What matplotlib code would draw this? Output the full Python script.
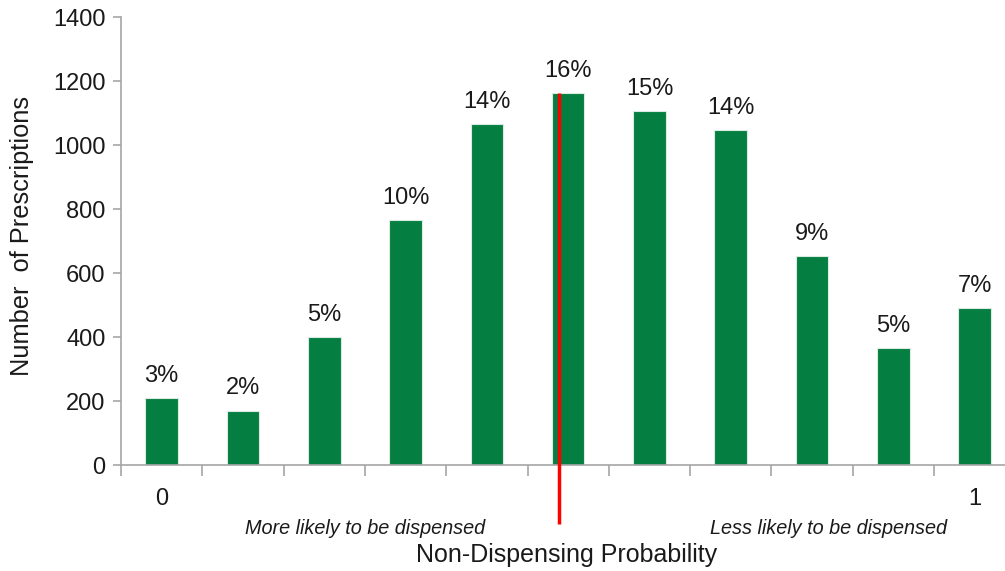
import matplotlib
matplotlib.use("Agg")
import matplotlib.pyplot as plt
import numpy as np

# Prescription counts per non-dispensing probability bin (0 .. 1)
bins = list(range(11))
counts = [210, 170, 400, 766, 1066, 1162, 1107, 1047, 653, 366, 491]
end_labels = {0: "0", 10: "1"}
y_ticks = [0, 200, 400, 600, 800, 1000, 1200, 1400]
threshold_pos = 4.89  # position of the red cut-off line on the category axis

plt.rcParams["font.family"] = ["Liberation Sans", "DejaVu Sans"]

fig = plt.figure(figsize=(10.05, 5.71), dpi=100)
W, H = 1005, 571
left_px, bottom_px, top_px = 121, 465, 17
cat_px = 81.3
ax = fig.add_axes([left_px / W, (H - bottom_px) / H,
                   11 * cat_px / W, (bottom_px - top_px) / H])

green = "#047f41"
grey = "#a6a6a6"
text_col = "#1a1a1a"
ax.bar(bins, counts, width=0.4, color=green, edgecolor="#dcebe1", linewidth=0.8, zorder=2)

total = sum(counts)
for x, c in zip(bins, counts):
    ax.text(x, c + 35, f"{round(100 * c / total)}%", ha="center", va="bottom",
            fontsize=17, color=text_col)

ax.set_xlim(-0.5, 10.5)
ax.set_ylim(0, 1400)
ax.set_yticks(y_ticks)
ax.set_yticklabels([str(v) for v in y_ticks], fontsize=17, color=text_col)
ax.tick_params(axis="y", direction="out", length=6, color=grey, width=1.2, pad=5)

# category boundary ticks on x-axis, labels only at the ends
ax.set_xticks([i - 0.5 for i in range(11)])
ax.set_xticklabels([])
ax.tick_params(axis="x", direction="out", length=8, color=grey, width=1.2)
for pos, lab in end_labels.items():
    ax.text(pos, -105, lab, ha="center", va="center", fontsize=17, color=text_col)

for side in ["top", "right"]:
    ax.spines[side].set_visible(False)
for side in ["left", "bottom"]:
    ax.spines[side].set_color(grey)
    ax.spines[side].set_linewidth(1.2)

# red threshold line
ax.plot([threshold_pos, threshold_pos], [-184, counts[5]], color="#ff0000",
        linewidth=2.5, clip_on=False, zorder=3, solid_capstyle="butt")

ax.text(2.5, -197, "More likely to be dispensed", ha="center", va="center",
        fontsize=14.3, style="italic", color=text_col)
ax.text(8.2, -197, "Less likely to be dispensed", ha="center", va="center",
        fontsize=14.3, style="italic", color=text_col)

fig.text(567 / W, 1 - 555 / H, "Non-Dispensing Probability", ha="center", va="center",
         fontsize=18, color=text_col)
fig.text(22 / W, 1 - 236 / H, "Number  of Prescriptions", ha="center", va="center",
         rotation=90, fontsize=18.3, color=text_col)

fig.savefig("out.png", dpi=100)
